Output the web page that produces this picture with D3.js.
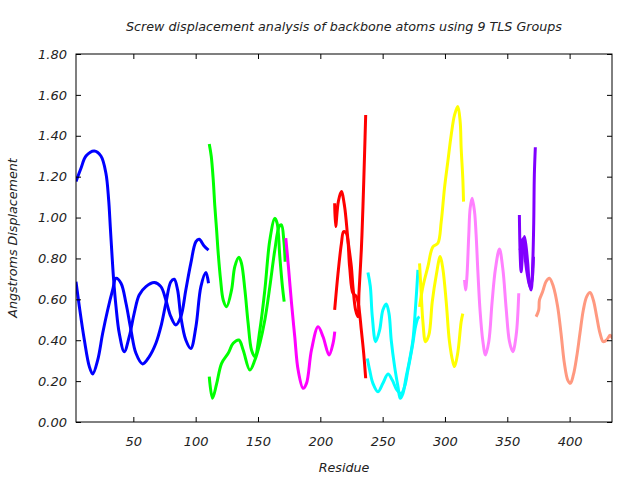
<!DOCTYPE html>
<html><head><meta charset="utf-8">
<script src="https://cdn.jsdelivr.net/npm/d3@7"></script>
<style>
body{margin:0;background:#fff;}
text{font-family:"DejaVu Sans",Verdana,sans-serif;font-style:italic;fill:#222;}
</style></head>
<body><svg id="c" width="640" height="480"></svg>
<script>
const title = "Screw displacement analysis of backbone atoms using 9 TLS Groups";
const xLabel = "Residue";
const yLabel = "Angstroms Displacement";
const xTicks = [50,100,150,200,250,300,350,400];
const yTicks = [0,0.2,0.4,0.6,0.8,1.0,1.2,1.4,1.6,1.8];
const xDomain = [4,434];
const yDomain = [0,1.8];

// residue arrays / value arrays per series
const blueA_r = [4,8,12,18.7,24,28,30.2,31.5,32.8,34.2,36.1,38.7,42.7,46.7,50.7,54.7,60.1,66.8,72.1,76.1,80.1,84.1,88.1,92.1,96.1,100.2,102.8,106.8,110.3];
const blueA_v = [1.176,1.241,1.301,1.326,1.301,1.217,1.086,0.956,0.825,0.695,0.564,0.434,0.344,0.417,0.532,0.621,0.662,0.682,0.662,0.597,0.515,0.475,0.515,0.646,0.776,0.882,0.894,0.861,0.841];
const blueB_r = [4,6.7,10.7,14.7,17.4,21.4,25.4,29.4,33.4,36.1,40.1,44.1,48.1,52.1,57.4,62.8,68.1,72.1,76.1,80.1,82.8,85.5,88.1,92.1,96.1,100.2,104.2,108.2,110.3];
const blueB_v = [0.686,0.564,0.401,0.271,0.235,0.303,0.434,0.548,0.646,0.703,0.679,0.581,0.450,0.336,0.284,0.320,0.385,0.466,0.581,0.686,0.698,0.646,0.515,0.401,0.360,0.466,0.662,0.731,0.679];
const greenA_r = [110.9,112.5,114.1,115.4,116.8,118.1,120,122.1,124.8,128.8,131.4,134.7,136.8,139.5,142.1,144.8,147.5,151.5,155.5,159.5,163.5,165.4,167.5,169.6,171];
const greenA_v = [1.360,1.30,1.184,1.053,0.939,0.825,0.695,0.597,0.564,0.646,0.760,0.806,0.775,0.646,0.483,0.352,0.320,0.450,0.646,0.890,0.996,0.971,0.809,0.662,0.589];
const greenB_r = [110.9,113.5,116.8,120.8,126.1,130.1,134.7,138.1,143.5,147.5,151.5,155.5,159.5,163.5,167,168.8,170.7,171.8];
const greenB_v = [0.222,0.116,0.186,0.287,0.336,0.385,0.401,0.352,0.254,0.303,0.385,0.499,0.662,0.841,0.956,0.964,0.890,0.784];
const magenta_r = [172.3,174.2,176.9,179.5,182.2,186.2,188.9,192.9,198.2,202.2,207,210.2,211.6];
const magenta_v = [0.899,0.775,0.581,0.417,0.254,0.165,0.189,0.352,0.466,0.417,0.328,0.385,0.442];
const redA_r = [211.5,212.3,214.5,216.9,219.5,222.2,224.9,226.2,228.3,230.2,231,232.9,234.2,235.6,236.4];
const redA_v = [1.070,0.956,1.08,1.127,1.053,0.890,0.760,0.660,0.548,0.515,0.63,0.842,1.053,1.331,1.502];
const redB_r = [211.5,214.2,216.9,218.7,220.9,223.5,226.2,228.9,230.5,232.9,234.8,236.4];
const redB_v = [0.548,0.727,0.872,0.931,0.923,0.760,0.630,0.614,0.58,0.450,0.336,0.214];
const cyanA_r = [238.2,240.1,241.7,244.4,247.6,250.2,252.9,255.1,256.9,259.6,262.3,264.1,266.3,268.9,271.6,274.3,276.4,277.5,278.3];
const cyanA_v = [0.731,0.664,0.515,0.393,0.450,0.548,0.577,0.530,0.400,0.271,0.173,0.116,0.140,0.222,0.303,0.401,0.563,0.662,0.744];
const cyanB_r = [237.7,239.6,242.2,246.2,250.2,254.3,257.7,261.5,264.9,267.6,270.3,273.8,276.4,278.3,279.6];
const cyanB_v = [0.311,0.254,0.189,0.148,0.189,0.235,0.205,0.156,0.140,0.173,0.254,0.369,0.467,0.508,0.515];
const yellowA_r = [279.6,281,282.3,284.4,287.1,289.8,293,296.2,298.3,301,303.6,306.3,307.7,310.3,313,314.3];
const yellowA_v = [0.776,0.621,0.490,0.393,0.426,0.588,0.718,0.809,0.750,0.588,0.393,0.295,0.271,0.340,0.490,0.530];
const yellowB_r = [279.6,282.3,286.3,290.3,294.3,297,299.6,302.3,305,307.7,310.3,312.2,313,314.3,314.9];
const yellowB_v = [0.563,0.662,0.760,0.857,0.874,0.980,1.143,1.274,1.404,1.502,1.543,1.468,1.339,1.192,1.078];
const pink_r = [315.7,316.5,317.5,319.1,320.2,321.8,323.7,325,326.4,328.2,330.4,332.5,335.2,337.8,340.5,343.7,346.4,349.1,351.7,354.4,357.1,359.2];
const pink_v = [0.695,0.646,0.700,0.915,1.045,1.094,1.029,0.915,0.736,0.541,0.395,0.328,0.395,0.587,0.750,0.846,0.750,0.555,0.395,0.344,0.424,0.630];
const purpleA_r = [359.7,360.3,361.1,362.4,363.7,365.1,366.4,367.7,369.1,370.4,371.2,371.7,372.5];
const purpleA_v = [1.013,0.825,0.735,0.840,0.907,0.857,0.776,0.678,0.646,0.776,0.971,1.208,1.344];
const purpleB_r = [360.3,361.9,363,364.5,366.4,368.3,369.9,371];
const purpleB_v = [0.840,0.890,0.898,0.792,0.710,0.662,0.695,0.808];
const salmon_r = [373.1,375.2,375.8,378.4,381.1,383.8,387,390.4,393.1,395.8,398.5,400.6,403,405.7,408.3,411,413.7,416.4,419,421.7,424.4,427,429.7,432.4,434.5];
const salmon_v = [0.515,0.547,0.597,0.638,0.687,0.703,0.662,0.564,0.434,0.287,0.205,0.189,0.230,0.320,0.434,0.548,0.613,0.633,0.597,0.516,0.434,0.393,0.401,0.424,0.408];

const seriesColors = ["#0000ff","#0000ff","#00ff00","#00ff00","#ff00ff","#ff0000","#ff0000","#00ffff","#00ffff","#ffff00","#ffff00","#ff80ff","#8000ff","#8000ff","#ff9980"];
const seriesR = [blueA_r,blueB_r,greenA_r,greenB_r,magenta_r,redA_r,redB_r,cyanA_r,cyanB_r,yellowA_r,yellowB_r,pink_r,purpleA_r,purpleB_r,salmon_r];
const seriesV = [blueA_v,blueB_v,greenA_v,greenB_v,magenta_v,redA_v,redB_v,cyanA_v,cyanB_v,yellowA_v,yellowB_v,pink_v,purpleA_v,purpleB_v,salmon_v];

const svg = d3.select("#c");
const L=76,R=612,T=54,B=422;
const x = d3.scaleLinear().domain(xDomain).range([L,R]);
const y = d3.scaleLinear().domain(yDomain).range([B,T]);

svg.append("defs").append("clipPath").attr("id","pc").append("rect")
  .attr("x",L).attr("y",T).attr("width",R-L).attr("height",B-T);

const line = d3.line().x(d=>x(d[0])).y(d=>y(d[1])).curve(d3.curveCatmullRom.alpha(0.5));
const g = svg.append("g").attr("clip-path","url(#pc)");
seriesR.forEach((rs,i)=>{
  const pts = rs.map((r,j)=>[r,seriesV[i][j]]);
  g.append("path").attr("d",line(pts)).attr("fill","none")
    .attr("stroke",seriesColors[i]).attr("stroke-width",3).attr("stroke-linejoin","round");
});

function styleAxis(sel){
  sel.select(".domain").remove();
  sel.selectAll(".tick line").attr("stroke","#000");
  sel.selectAll("text").style("font-size","13px").attr("fill","#222");
}
svg.append("g").attr("transform",`translate(0,${B})`)
  .call(d3.axisBottom(x).tickValues(xTicks).tickSizeInner(-5).tickSizeOuter(0).tickPadding(15).tickFormat(d3.format("d")))
  .call(styleAxis);
svg.append("g").attr("transform",`translate(0,${T})`)
  .call(d3.axisTop(x).tickValues(xTicks).tickSizeInner(-5).tickSizeOuter(0).tickFormat(""))
  .call(styleAxis);
svg.append("g").attr("transform",`translate(${L},0)`)
  .call(d3.axisLeft(y).tickValues(yTicks).tickSizeInner(-5).tickSizeOuter(0).tickPadding(9).tickFormat(d3.format(".2f")))
  .call(styleAxis);
svg.append("g").attr("transform",`translate(${R},0)`)
  .call(d3.axisRight(y).tickValues(yTicks).tickSizeInner(-5).tickSizeOuter(0).tickFormat(""))
  .call(styleAxis);

svg.append("rect").attr("x",L).attr("y",T).attr("width",R-L).attr("height",B-T)
  .attr("fill","none").attr("stroke","#000").attr("stroke-width",1);

svg.append("text").attr("x",(L+R)/2).attr("y",31).attr("text-anchor","middle").style("font-size","12.7px").text(title);
svg.append("text").attr("x",(L+R)/2).attr("y",472).attr("text-anchor","middle").style("font-size","12.7px").text(xLabel);
svg.append("text").attr("transform",`translate(17,${(T+B)/2}) rotate(-90)`).attr("text-anchor","middle").style("font-size","12.7px").text(yLabel);
</script></body></html>
